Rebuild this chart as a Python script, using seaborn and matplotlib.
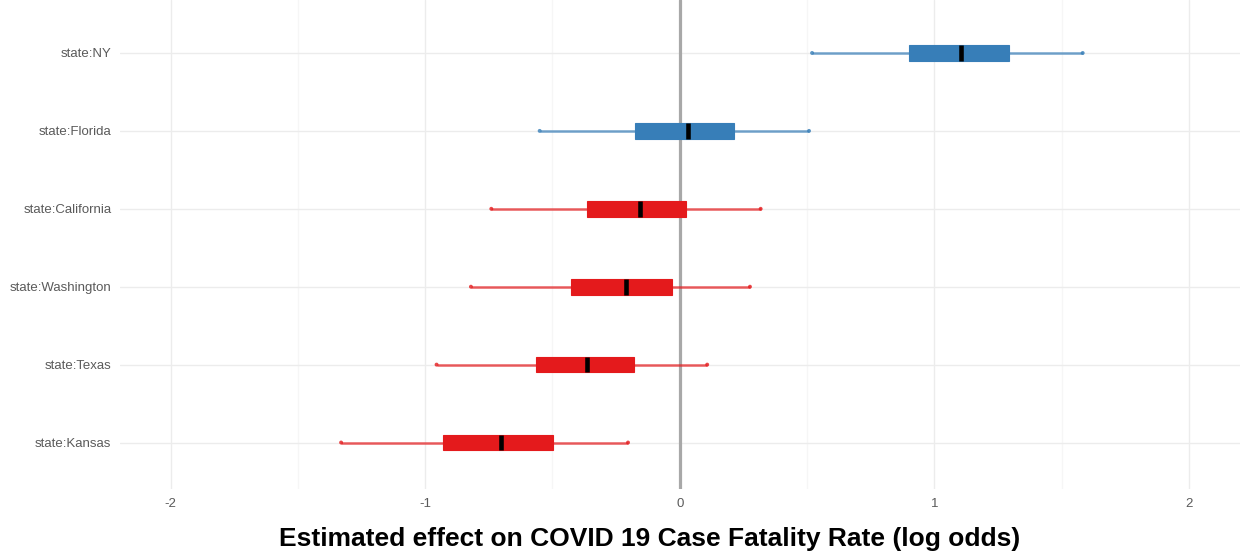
import numpy as np
import pandas as pd
import matplotlib
matplotlib.use("Agg")
from matplotlib import pyplot as plt
from matplotlib.ticker import MultipleLocator
import seaborn as sns

# posterior summaries per state (log odds)
states = ["state:NY", "state:Florida", "state:California",
          "state:Washington", "state:Texas", "state:Kansas"]
whisker_low = [0.52, -0.55, -0.74, -0.82, -0.955, -1.33]
box_low = [0.90, -0.175, -0.365, -0.427, -0.566, -0.93]
median = [1.105, 0.031, -0.154, -0.211, -0.363, -0.702]
box_high = [1.295, 0.215, 0.025, -0.03, -0.181, -0.497]
whisker_high = [1.583, 0.508, 0.318, 0.276, 0.108, -0.203]

x_ticks = [-2, -1, 0, 1, 2]
x_label = "Estimated effect on COVID 19 Case Fatality Rate (log odds)"

palette = {"positive": "#377EB8", "negative": "#E41A1C"}
signs = ["positive" if m > 0 else "negative" for m in median]

rows = []
for i, state in enumerate(states):
    for v in (whisker_low[i], box_low[i], median[i], box_high[i], whisker_high[i]):
        rows.append({"term": state, "estimate": v, "sign": signs[i]})
df = pd.DataFrame(rows)

sns.set_theme(style="whitegrid")
plt.rcParams["font.family"] = ["Liberation Sans", "DejaVu Sans"]
plt.rcParams["axes.unicode_minus"] = False

fig, ax = plt.subplots(figsize=(12.46, 5.56), dpi=100)
fig.subplots_adjust(left=0.096, right=0.995, top=1.0, bottom=0.12)

ax.axvline(0, color="#A8A8A8", lw=2.3, zorder=1.5)

sns.boxplot(data=df, x="estimate", y="term", hue="sign", palette=palette,
            order=states, width=0.2, whis=(0, 100), dodge=False,
            saturation=1, showcaps=False, legend=False, ax=ax)

for cont in ax.containers:
    boxes = getattr(cont, "boxes", [])
    for box in boxes:
        fc = box.get_facecolor()
        box.set_edgecolor(fc)
        box.set_linewidth(0.8)
        box.set_zorder(3)
    for j, w in enumerate(getattr(cont, "whiskers", [])):
        fc = boxes[j // 2].get_facecolor()
        w.set_color(fc)
        w.set_alpha(0.7)
        w.set_linewidth(1.8)
    for m in getattr(cont, "medians", []):
        m.set_color("black")
        m.set_linewidth(3.3)
        m.set_solid_capstyle("butt")
        m.set_zorder(4)

# small caps at whisker ends
ypos = np.arange(len(states))
sns.scatterplot(x=whisker_low + whisker_high, y=list(ypos) * 2, hue=signs * 2,
                palette=palette, marker="o", s=8, linewidth=0, alpha=0.8,
                legend=False, ax=ax, zorder=3)

ax.set_xlim(-2.2, 2.2)
ax.set_ylim(len(states) - 0.4, -0.68)
ax.set_xticks(x_ticks)
ax.set_xticklabels([str(t) for t in x_ticks])
ax.xaxis.set_minor_locator(MultipleLocator(0.5))
ax.grid(which="major", color="#ECECEC", lw=1.0)
ax.grid(which="minor", axis="x", color="#F6F6F6", lw=1.0)
ax.set_axisbelow(True)
for s in ax.spines.values():
    s.set_visible(False)

ax.tick_params(axis="both", which="both", length=0, colors="#5A5A5A",
               labelsize=9.5, pad=6)
ax.set_ylabel("")
ax.set_xlabel(x_label, fontsize=19, fontweight="bold", color="black",
              labelpad=10)
ax.xaxis.set_label_coords(0.473, -0.077)

fig.savefig("out.png", dpi=100)
